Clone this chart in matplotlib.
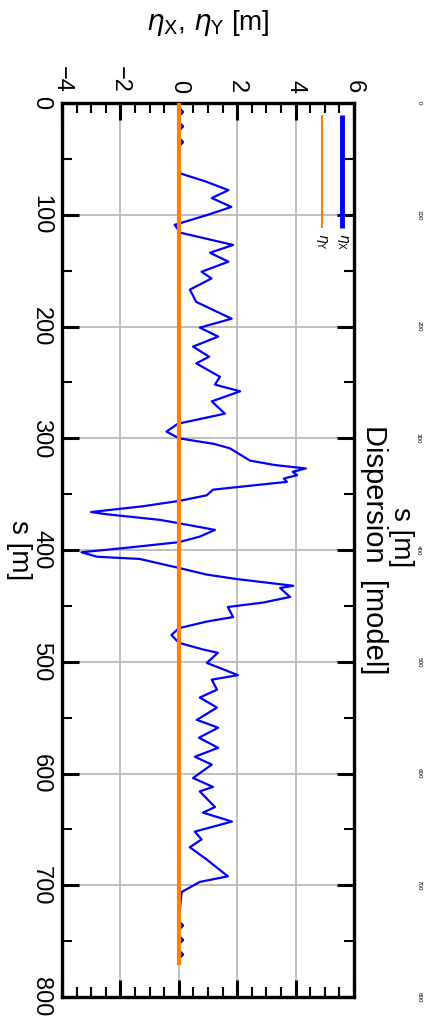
import numpy as np
import matplotlib
matplotlib.use('Agg')
from matplotlib import pyplot as plt
from matplotlib.ticker import MultipleLocator

plt.rcParams['font.family'] = ['Liberation Sans', 'DejaVu Sans']
plt.rcParams['mathtext.fontset'] = 'dejavusans'

# horizontal dispersion along the ring
s_x = [0, 4, 8, 12, 17, 21, 25, 31, 35, 39,
       63, 70, 78, 85, 93, 100, 109, 116, 127, 134,
       142, 151, 157, 167, 178, 193, 201, 209, 218, 227,
       233, 245, 252, 258, 267, 278, 287, 294, 300, 305,
       309, 320, 324, 327, 330, 333, 336, 339, 346, 351,
       356, 361, 366, 368, 373, 376, 382, 388, 393, 398,
       402, 406, 408, 416, 422, 426, 432, 434, 442, 447,
       451, 460, 464, 470, 476, 483, 489, 492, 501, 512,
       516, 525, 532, 541, 552, 559, 568, 577, 585, 592,
       604, 612, 616, 630, 635, 643, 652, 659, 666, 677,
       692, 697, 706, 732, 736, 740, 745, 749, 753, 758,
       762, 766, 770]
eta_x = [0, 0, 0.15, 0, 0, 0.15, 0, 0, 0.15, 0,
         0.05, 0.9, 1.7, 1.13, 1.8, 1.0, -0.14, 0.05, 1.86, 1.07,
         1.7, 0.78, 1.12, 0.38, 0.6, 1.81, 0.72, 1.35, 0.49, 1.04,
         0.6, 1.41, 1.24, 2.1, 1.13, 1.58, -0.03, -0.42, 0.0, 1.2,
         1.75, 2.44, 3.3, 4.35, 3.9, 4.05, 3.6, 3.7, 1.17, 0.96,
         0.03, -1.27, -3.0, -2.47, -0.65, 0.0, 1.24, 0.72, 0.0, -1.79,
         -3.33, -2.8, -1.34, 0.0, 0.96, 1.99, 3.92, 3.47, 3.81, 2.89,
         1.68, 1.86, 0.96, 0.0, -0.25, 0.0, 0.83, 1.34, 0.96, 2.03,
         1.13, 1.31, 0.72, 1.31, 0.62, 1.35, 0.69, 1.35, 0.55, 1.13,
         0.49, 1.17, 0.72, 1.24, 0.83, 1.82, 0.55, 0.78, 0.38, 0.96,
         1.68, 0.72, 0.1, 0, 0.15, 0, 0, 0.15, 0, 0,
         0.15, 0, 0]

# vertical dispersion is zero everywhere
s_y = [0, 770]
eta_y = [0, 0]

s_ticks = [0, 100, 200, 300, 400, 500, 600, 700, 800]

blue = '#0000ff'
orange = '#ff8000'

fig = plt.figure(figsize=(4.24, 10.23), dpi=100)
ax = fig.add_axes([0.146, 0.0254, 0.689, 0.8739])

ax.plot(eta_x, s_x, color=blue, lw=1.6, zorder=3)
ax.plot(eta_y, s_y, color=orange, lw=3, zorder=4)

ax.set_xlim(-4, 6)
ax.set_ylim(800, 0)
ax.set_xticks(np.arange(-4, 7, 2))
ax.set_yticks(s_ticks)
ax.xaxis.set_minor_locator(MultipleLocator(0.5))
ax.yaxis.set_minor_locator(MultipleLocator(50))

ax.tick_params(which='both', direction='in', top=True, bottom=True,
               left=True, right=True, labeltop=True, labelbottom=False,
               labelleft=True, labelright=False, labelsize=17, pad=7)
ax.tick_params(which='major', length=12, width=2.2)
ax.tick_params(which='minor', length=7, width=1.5)
ax.tick_params(axis='both', labelrotation=-90)
for lab in ax.get_yticklabels():
    lab.set_va('center')

for sp in ax.spines.values():
    sp.set_linewidth(2.4)

ax.grid(True, which='major', color='#b4b4b4', lw=1.2)
ax.set_axisbelow(True)

# axis labels
ax.xaxis.set_label_position('top')
ax.set_xlabel(r'$\eta_{\rm X}$, $\eta_{\rm Y}$ [m]', fontsize=20)
ax.xaxis.set_label_coords(0.5, 1.082)
ax.set_ylabel('s [m]', fontsize=20, rotation=-90, ha='center', va='center')
ax.yaxis.set_label_coords(-0.147, 0.5)

# title of the panel and the bits of the panel above it
ax.text(1.068, 0.5, 'Dispersion  [model]', transform=ax.transAxes,
        rotation=-90, ha='center', va='center', fontsize=21)
ax.text(1.161, 0.514, 's [m]', transform=ax.transAxes,
        rotation=-90, ha='center', va='center', fontsize=20)
tr = ax.get_yaxis_transform()
for s in s_ticks:
    ax.text(1.213, s, str(s), transform=tr, rotation=-90,
            ha='left', va='center', fontsize=4.5)

# legend drawn upright to follow the turned plot
ax.plot([0.959, 0.959], [0.987, 0.86], transform=ax.transAxes,
        color=blue, lw=3.5, solid_capstyle='butt', zorder=5)
ax.plot([0.89, 0.89], [0.987, 0.86], transform=ax.transAxes,
        color=orange, lw=1.5, solid_capstyle='butt', zorder=5)
ax.text(0.959, 0.855, r'$\eta_{\rm X}$', transform=ax.transAxes, rotation=-90,
        ha='center', va='top', fontsize=10)
ax.text(0.89, 0.855, r'$\eta_{\rm Y}$', transform=ax.transAxes, rotation=-90,
        ha='center', va='top', fontsize=10)

plt.savefig('out.png', dpi=100)
